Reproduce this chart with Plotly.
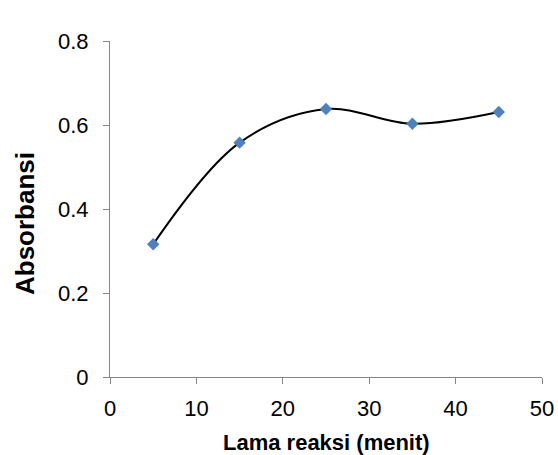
import plotly.graph_objects as go

lama_reaksi = [5, 15, 25, 35, 45]
absorbansi = [0.316, 0.558, 0.638, 0.603, 0.631]

x_ticks = [0, 10, 20, 30, 40, 50]
y_ticks = [0, 0.2, 0.4, 0.6, 0.8]
y_tick_labels = ["0", "0.2", "0.4", "0.6", "0.8"]

fig = go.Figure()
fig.add_trace(go.Scatter(
    x=lama_reaksi, y=absorbansi,
    mode="lines+markers",
    line=dict(color="black", width=2, shape="spline", smoothing=1.0),
    marker=dict(symbol="diamond", size=9.5, color="#4F81BD"),
    showlegend=False,
))

font_family = "Liberation Sans, Arial, sans-serif"
fig.update_layout(
    width=558, height=455,
    margin=dict(l=110, r=16, t=41, b=78),
    paper_bgcolor="white", plot_bgcolor="white",
    font=dict(family=font_family, color="black", size=22),
    xaxis=dict(
        range=[0, 50], tickvals=x_ticks, ticktext=[str(v) for v in x_ticks],
        showgrid=False, zeroline=False, showline=True, linecolor="#868686", linewidth=1,
        ticks="outside", ticklen=6, tickcolor="#868686", automargin=False,
        tickfont=dict(size=22), ticklabelstandoff=6,
    ),
    yaxis=dict(
        range=[0, 0.8], tickvals=y_ticks, ticktext=y_tick_labels,
        showgrid=False, zeroline=False, showline=True, linecolor="#868686", linewidth=1,
        ticks="outside", ticklen=6, tickcolor="#868686", automargin=False,
        tickfont=dict(size=22), ticklabelstandoff=10,
    ),
    annotations=[
        dict(text="<b>Lama reaksi (menit)</b>", xref="paper", yref="paper",
             x=0.5, y=-0.196, xanchor="center", yanchor="middle",
             showarrow=False, font=dict(size=22)),
        dict(text="<b>Absorbansi</b>", xref="paper", yref="paper",
             x=-0.197, y=0.458, xanchor="center", yanchor="middle", textangle=-90,
             showarrow=False, font=dict(size=26)),
    ],
)
fig.write_html(
    "out.html",
    config={"displayModeBar": False},
    post_script="document.body.style.margin='0';document.body.style.overflow='hidden';",
)
